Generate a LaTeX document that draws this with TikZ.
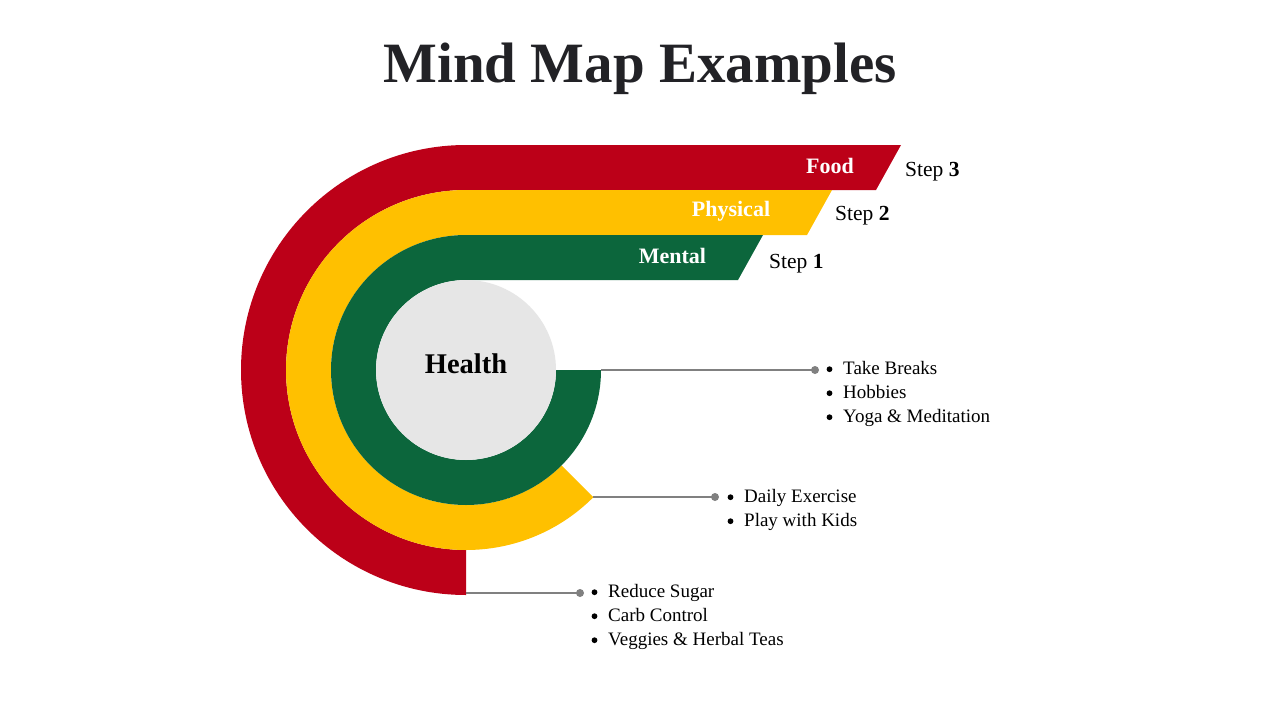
\documentclass[tikz,border=0pt]{standalone}
\usepackage{fontspec}
\setmainfont{Liberation Serif}
\definecolor{cred}{RGB}{188,0,24}
\definecolor{cyellow}{RGB}{255,192,0}
\definecolor{cgreen}{RGB}{12,102,60}
\definecolor{cgrey}{RGB}{230,230,230}
\definecolor{ctitle}{RGB}{34,34,38}
\definecolor{cline}{RGB}{128,128,128}
\tikzset{
  band/.style={text=white, font=\fontsize{22}{26}\selectfont\bfseries, anchor=base, inner sep=0pt},
  steplabel/.style={text=black, font=\fontsize{21.5}{25}\selectfont, anchor=base west, inner sep=0pt},
  item/.style={text=black, font=\fontsize{19}{24}\selectfont, anchor=base west, inner sep=0pt},
  dot/.style={circle, fill=cline, minimum size=8pt, inner sep=0pt},
  conn/.style={draw=cline, line width=2pt},
  bulletdot/.style={fill=black},
}
\newcommand{\bulletat}[1]{\fill[bulletdot] (#1.base west) ++(-13.5,-4.8) circle (2.9pt);}
\begin{document}
\begin{tikzpicture}[x=1pt,y=-1pt]
\useasboundingbox (0,0) rectangle (1280,720);
\fill[white] (0,0) rectangle (1280,720);

% title
\node[anchor=base, inner sep=0pt, text=ctitle, font=\fontsize{57}{60}\selectfont\bfseries] (title) at (640,82) {Mind Map Examples};

% red ring (Food)
\fill[cred] (466,145) -- (901,145) -- (876,190) -- (466,190)
  arc[start angle=-90, end angle=-270, radius=180] -- (466,595)
  arc[start angle=-270, end angle=-90, radius=225] -- cycle;
% yellow ring (Physical)
\fill[cyellow] (466,190) -- (832,190) -- (807,235) -- (466,235)
  arc[start angle=-90, end angle=-315, radius=135] -- (593.28,497.28)
  arc[start angle=-315, end angle=-90, radius=180] -- cycle;
% green ring (Mental)
\fill[cgreen] (466,235) -- (763,235) -- (738,280) -- (466,280)
  arc[start angle=-90, end angle=-360, radius=90] -- (601,370)
  arc[start angle=-360, end angle=-90, radius=135] -- cycle;

% centre
\node[circle, fill=cgrey, minimum size=180pt, inner sep=0pt] (health) at (466,370) {};
\node[anchor=base, inner sep=0pt, font=\fontsize{28.5}{30}\selectfont\bfseries] (healthtext) at (466,373) {Health};

% band labels
\node[band] (food) at (830,173) {Food};
\node[band] (physical) at (731,216) {Physical};
\node[band] (mental) at (672.5,263) {Mental};

% step labels
\node[steplabel] (step3) at (905,176) {Step \textbf{3}};
\node[steplabel] (step2) at (835,220) {Step \textbf{2}};
\node[steplabel] (step1) at (769,268) {Step \textbf{1}};

% connectors
\coordinate (gEnd) at (601,370);
\coordinate (yEnd) at (593.28,497);
\coordinate (rEnd) at (466,593);
\node[dot] (gDot) at (815,370) {};
\node[dot] (yDot) at (715,497) {};
\node[dot] (rDot) at (580,593) {};
\draw[conn] (gEnd) -- (gDot.center);
\draw[conn] (yEnd) -- (yDot.center);
\draw[conn] (rEnd) -- (rDot.center);

% lists
\node[item] (m1) at (843,374) {Take Breaks};
\node[item] (m2) at (843,398) {Hobbies};
\node[item] (m3) at (843,422) {Yoga \& Meditation};

\node[item] (p1) at (744,502) {Daily Exercise};
\node[item] (p2) at (744,526) {Play with Kids};

\node[item] (f1) at (608,597) {Reduce Sugar};
\node[item] (f2) at (608,621) {Carb Control};
\node[item] (f3) at (608,645) {Veggies \& Herbal Teas};

\foreach \n in {m1,m2,m3,p1,p2,f1,f2,f3} {\bulletat{\n}}
\end{tikzpicture}
\end{document}
